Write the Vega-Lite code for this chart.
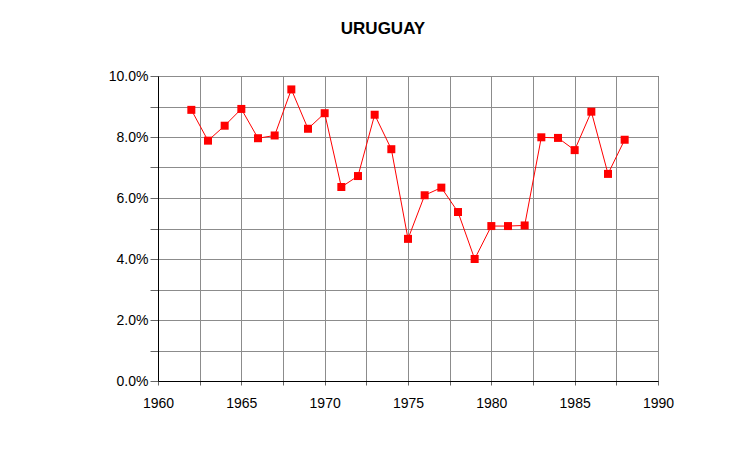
{
  "$schema": "https://vega.github.io/schema/vega-lite/v6.json",
  "width": 500,
  "height": 305,
  "autosize": {"type": "none"},
  "padding": {"left": 158, "top": 76, "right": 95, "bottom": 90},
  "background": "white",
  "title": {
    "text": "URUGUAY",
    "font": "Liberation Sans",
    "fontSize": 17,
    "fontWeight": "bold",
    "color": "black",
    "anchor": "middle",
    "frame": "group",
    "dx": -25,
    "baseline": "alphabetic",
    "offset": 18
  },
  "config": {
    "view": {"stroke": "#333", "strokeWidth": 1},
    "axis": {
      "labelFont": "Liberation Sans",
      "labelFontSize": 14,
      "labelColor": "black",
      "domainColor": "black",
      "tickColor": "#666",
      "gridColor": "#8c8c8c",
      "gridOpacity": 1,
      "gridWidth": 1
    }
  },
  "data": {
    "values": [
      {"year": 1962, "rate": 0.0889},
      {"year": 1963, "rate": 0.0788},
      {"year": 1964, "rate": 0.0837},
      {"year": 1965, "rate": 0.0892},
      {"year": 1966, "rate": 0.0796},
      {"year": 1967, "rate": 0.0805},
      {"year": 1968, "rate": 0.0956},
      {"year": 1969, "rate": 0.0827},
      {"year": 1970, "rate": 0.0878},
      {"year": 1971, "rate": 0.0636},
      {"year": 1972, "rate": 0.0672},
      {"year": 1973, "rate": 0.0873},
      {"year": 1974, "rate": 0.0760},
      {"year": 1975, "rate": 0.0466},
      {"year": 1976, "rate": 0.0609},
      {"year": 1977, "rate": 0.0634},
      {"year": 1978, "rate": 0.0554},
      {"year": 1979, "rate": 0.0400},
      {"year": 1980, "rate": 0.0508},
      {"year": 1981, "rate": 0.0508},
      {"year": 1982, "rate": 0.0510},
      {"year": 1983, "rate": 0.0799},
      {"year": 1984, "rate": 0.0797},
      {"year": 1985, "rate": 0.0757},
      {"year": 1986, "rate": 0.0883},
      {"year": 1987, "rate": 0.0679},
      {"year": 1988, "rate": 0.0791}
    ]
  },
  "encoding": {
    "x": {
      "field": "year",
      "type": "quantitative",
      "scale": {"domain": [1960, 1990], "nice": false, "zero": false},
      "axis": {
        "title": null,
        "values": [1960, 1962.5, 1965, 1967.5, 1970, 1972.5, 1975, 1977.5, 1980, 1982.5, 1985, 1987.5, 1990],
        "labelExpr": "datum.value % 5 == 0 ? format(datum.value, 'd') : ''",
        "tickSize": 4,
        "labelPadding": 11,
        "labelFlush": false,
        "labelOverlap": false
      }
    },
    "y": {
      "field": "rate",
      "type": "quantitative",
      "scale": {"domain": [0, 0.1], "nice": false},
      "axis": {
        "title": null,
        "values": [0, 0.01, 0.02, 0.03, 0.04, 0.05, 0.06, 0.07, 0.08, 0.09, 0.1],
        "labelExpr": "round(datum.value * 100) % 2 == 0 ? format(datum.value, '.1%') : ''",
        "tickSize": 8,
        "labelPadding": 2,
        "labelOverlap": false
      }
    }
  },
  "layer": [
    {"mark": {"type": "line", "color": "#ff0000", "strokeWidth": 1}},
    {"mark": {"type": "point", "shape": "square", "filled": true, "color": "#ff0000", "size": 64, "opacity": 1}}
  ]
}
